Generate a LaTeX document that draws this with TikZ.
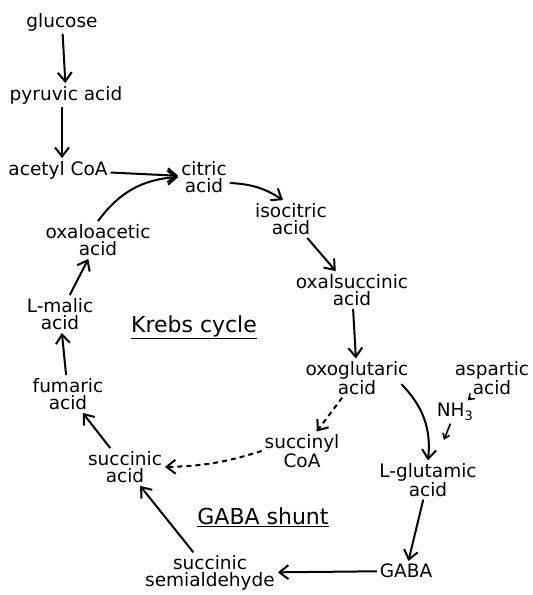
\documentclass[tikz,border=0pt]{standalone}
\usepackage{fontspec}
\setmainfont{DejaVu Sans}
\usetikzlibrary{arrows.meta}

\begin{document}
\begin{tikzpicture}[x=1pt, y=-1pt, line width=2pt,
  chem/.style={font=\fontsize{18.5}{17.5}\selectfont, align=center, inner sep=2pt},
  title/.style={font=\fontsize{22}{22}\selectfont, inner sep=2pt},
  >={Straight Barb[length=9pt, width=14pt, line width=2pt]},
  tiny/.style={-{Straight Barb[length=5pt, width=7pt, line width=1.6pt]}, line width=1.6pt},
  minor/.style={dash pattern=on 5pt off 4pt}]
\useasboundingbox (0,0) rectangle (533,595);
%entry
\node[chem] (glc) at (62,22) {glucose};
\node[chem] (pyr) at (66,95) {pyruvic acid};
\node[chem] (acoa) at (58,170) {acetyl CoA};
%cycle
\node[chem] (cit) at (204,177) {citric\\acid};
\node[chem] (iso) at (291,219) {isocitric\\acid};
\node[chem] (oxs) at (352,290) {oxalsuccinic\\acid};
\node[chem] (oxg) at (357,378) {oxoglutaric\\acid};
\node[chem] (sco) at (302,451) {succinyl\\CoA};
\node[chem] (suc) at (125,467) {succinic\\acid};
\node[chem] (fum) at (68,394) {fumaric\\acid};
\node[chem] (mal) at (60,314) {L-malic\\acid};
\node[chem] (oxa) at (98,240) {oxaloacetic\\acid};
%shunt
\node[chem] (asp) at (492,378) {aspartic\\acid};
\node[chem] (nh) at (455,412) {NH\textsubscript{3}};
\node[chem] (glu) at (428,480) {L-glutamic\\acid};
\node[chem] (gaba) at (406,571) {GABA};
\node[chem] (ssa) at (210,573) {succinic\\semialdehyde};
\node[title] (krebs) at (194,327) {\underline{Krebs\ cycle}};
\node[title] (shunt) at (263,517) {\underline{GABA\ shunt}};
\draw [->] (glc) edge (pyr);
\draw [->] (pyr.south -| glc) to (acoa.north -| glc);
\draw [->] (acoa) edge (cit);
\draw [->] (oxa.north) to[bend left=25] (cit.west);
\draw [->] ([yshift=-6pt]cit.east) to[bend left=15] ([xshift=-8pt]iso.north);
\draw [->] (iso) edge (oxs);
\draw [->] (oxs) edge (oxg);
\draw [->, minor] (oxg) edge (sco);
\draw [->, minor] (sco.west) to[bend left=8] (suc.east);
\draw [->] ([shift={(-10,6)}]oxg.east) to[bend left=25] (glu.north);
\draw [tiny] (asp) edge (nh);
\draw [tiny, shorten >=22pt] (nh) edge (glu);
\draw [->] (glu) edge (gaba);
\draw [->] (gaba) edge (ssa);
\draw [->] (ssa) edge (suc);
\draw [->] (suc) edge (fum);
\draw [->] (fum) edge (mal);
\draw [->] (mal) edge (oxa);
\end{tikzpicture}
\end{document}
